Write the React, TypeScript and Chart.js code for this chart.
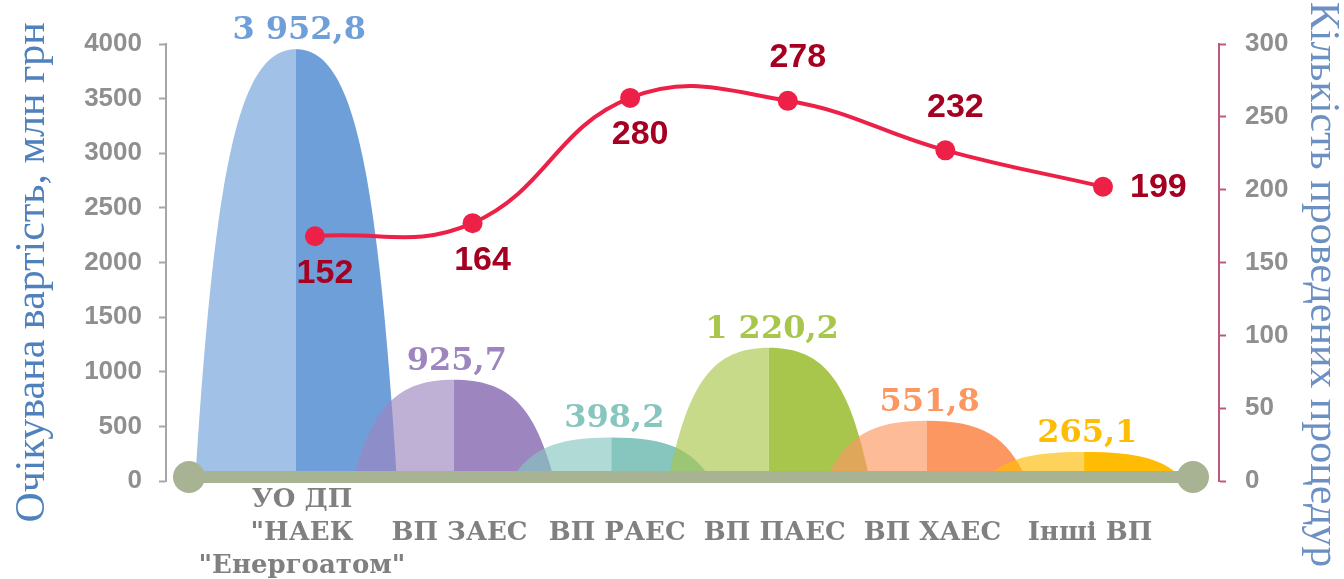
import React, { useEffect, useRef } from "react";
import { Chart, registerables } from "chart.js";

Chart.register(...registerables);

// ---- data ----
const categories: string[][] = [
  ["УО ДП", "\"НАЕК", "\"Енергоатом\""],
  ["ВП ЗАЕС"],
  ["ВП РАЕС"],
  ["ВП ПАЕС"],
  ["ВП ХАЕС"],
  ["Інші ВП"],
];
const expectedCost = [3952.8, 925.7, 398.2, 1220.2, 551.8, 265.1];
// labels shown next to the red markers
const procedureCount = [152, 164, 280, 278, 232, 199];
// height at which each red marker is drawn in the picture (right axis units)
const procedureMarkerLevel = [168, 177, 263, 261, 227, 202];
const costAxisMax = 4000;
const costAxisStep = 500;
const countAxisMax = 300;
const countAxisStep = 50;
const bellColors = ["#6F9FD9", "#9D85C0", "#86C6BE", "#A8C64B", "#FC9761", "#FEBC05"];
const leftTitle = "Очікувана вартість, млн грн";
const rightTitle = "Кількість проведених процедур";

// ---- style ----
const LINE_COLOR = "#ED2048";
const LINE_LABEL_COLOR = "#A50021";
const BAND_COLOR = "#A7B393";
const GREY_TEXT = "#8F8F8F";
const labelPlacement = ["below", "below", "below", "above", "above", "right"];

const fmtCost = (v: number) => {
  const [i, d] = v.toFixed(1).split(".");
  return i.replace(/\B(?=(\d{3})+(?!\d))/g, " ") + "," + d;
};

const decorPlugin = {
  id: "decor",
  beforeDatasetsDraw(chart: any) {
    const { ctx, chartArea } = chart;
    const xs = chart.scales.x;
    const ys = chart.scales.y;
    const base = ys.getPixelForValue(0);
    const hw = xs.getPixelForValue(0.64) - xs.getPixelForValue(0);
    ctx.save();
    expectedCost.forEach((v, i) => {
      const cx = xs.getPixelForValue(i - 0.12);
      const top = ys.getPixelForValue(v);
      const H = base - top;
      ctx.fillStyle = bellColors[i];
      // left (light) half
      ctx.globalAlpha = 0.65;
      ctx.beginPath();
      ctx.moveTo(cx - hw, base);
      ctx.bezierCurveTo(cx - 0.8 * hw, base - 0.75 * H, cx - 0.55 * hw, top, cx, top);
      ctx.lineTo(cx, base);
      ctx.closePath();
      ctx.fill();
      // right (dark) half
      ctx.globalAlpha = 1;
      ctx.beginPath();
      ctx.moveTo(cx, top);
      ctx.bezierCurveTo(cx + 0.55 * hw, top, cx + 0.8 * hw, base - 0.75 * H, cx + hw, base);
      ctx.lineTo(cx, base);
      ctx.closePath();
      ctx.fill();
    });
    // baseline band with round ends
    const y0 = base - 4;
    const xL = chartArea.left + 23;
    const xR = chartArea.right - 26;
    ctx.fillStyle = BAND_COLOR;
    ctx.fillRect(xL, y0 - 6, xR - xL, 12);
    ctx.beginPath();
    ctx.arc(xL, y0, 16, 0, Math.PI * 2);
    ctx.arc(xR, y0, 16, 0, Math.PI * 2);
    ctx.fill();
    ctx.restore();
  },
  afterDatasetsDraw(chart: any) {
    const { ctx, chartArea } = chart;
    const xs = chart.scales.x;
    const ys = chart.scales.y;
    ctx.save();
    // cost labels above bells
    ctx.font = "bold 32px 'DejaVu Serif'";
    ctx.textAlign = "center";
    ctx.textBaseline = "alphabetic";
    expectedCost.forEach((v, i) => {
      const cx = xs.getPixelForValue(i - 0.1);
      const top = ys.getPixelForValue(v);
      ctx.fillStyle = bellColors[i];
      ctx.fillText(fmtCost(v), cx, top - 10);
    });
    // procedure count labels
    const meta = chart.getDatasetMeta(0);
    ctx.font = "bold 34px 'Liberation Sans', Arial, sans-serif";
    ctx.fillStyle = LINE_LABEL_COLOR;
    ctx.textBaseline = "middle";
    meta.data.forEach((pt: any, i: number) => {
      const p = labelPlacement[i];
      let x = pt.x + 10;
      let y = pt.y;
      ctx.textAlign = "center";
      if (p === "below") y += 36;
      else if (p === "above") y -= 44;
      else {
        x = pt.x + 27;
        ctx.textAlign = "left";
      }
      ctx.fillText(String(procedureCount[i]), x, y + 1);
    });
    // category labels
    ctx.font = "bold 26px 'DejaVu Serif'";
    ctx.fillStyle = "#808080";
    ctx.textAlign = "center";
    ctx.textBaseline = "alphabetic";
    categories.forEach((lines, i) => {
      const cx = xs.getPixelForValue(i) - 13;
      const mid = chartArea.bottom + 59;
      lines.forEach((ln, k) => {
        ctx.fillText(ln, cx, mid + (k - (lines.length - 1) / 2) * 33);
      });
    });
    // axis titles
    const cy = (chartArea.top + chartArea.bottom) / 2;
    ctx.font = "42px 'Liberation Serif', serif";
    ctx.fillStyle = "#4F81BD";
    ctx.save();
    ctx.translate(chartArea.left - 122, cy + 10);
    ctx.rotate(-Math.PI / 2);
    ctx.fillText(leftTitle, 0, 0);
    ctx.restore();
    ctx.fillStyle = "#6D90C3";
    ctx.save();
    ctx.translate(chartArea.right + 92, cy + 22);
    ctx.rotate(Math.PI / 2);
    ctx.fillText(rightTitle, 0, 0);
    ctx.restore();
    ctx.restore();
  },
};

export default function App() {
  const ref = useRef<HTMLCanvasElement | null>(null);
  useEffect(() => {
    if (!ref.current) return;
    const tickFont = { family: "'Liberation Sans', Arial, sans-serif", weight: "bold" as const, size: 26 };
    const plain = (v: any) => String(v);
    const chart = new Chart(ref.current, {
      type: "line",
      data: {
        datasets: [
          {
            label: "Кількість проведених процедур",
            data: procedureMarkerLevel.map((v, i) => ({ x: i, y: v })),
            yAxisID: "y1",
            xAxisID: "x",
            borderColor: LINE_COLOR,
            backgroundColor: LINE_COLOR,
            borderWidth: 4,
            tension: 0.42,
            pointRadius: 10,
            pointBackgroundColor: LINE_COLOR,
            pointBorderWidth: 0,
            clip: false as any,
          },
        ],
      },
      options: {
        responsive: false,
        animation: false,
        devicePixelRatio: 1,
        layout: { padding: { top: 44, bottom: 98, left: 0, right: 0 } },
        plugins: { legend: { display: false }, tooltip: { enabled: false }, title: { display: false } },
        scales: {
          x: { type: "linear", display: false, min: -0.945, max: 5.736 },
          y: {
            position: "left",
            min: 0,
            max: costAxisMax,
            ticks: { stepSize: costAxisStep, padding: 17, color: GREY_TEXT, font: tickFont, callback: plain },
            grid: { drawOnChartArea: false, drawTicks: true, tickLength: 7, tickColor: "#A6A6A6", tickWidth: 2 },
            border: { display: true, color: "#A6A6A6", width: 2 },
            afterFit: (s: any) => {
              s.width = 166;
            },
          },
          y1: {
            position: "right",
            min: 0,
            max: countAxisMax,
            ticks: { stepSize: countAxisStep, padding: 19, color: GREY_TEXT, font: tickFont, callback: plain },
            grid: { drawOnChartArea: false, drawTicks: true, tickLength: 7, tickColor: "#C0587E", tickWidth: 2 },
            border: { display: true, color: "#C0587E", width: 2 },
            afterFit: (s: any) => {
              s.width = 125;
            },
          },
        },
      } as any,
      plugins: [decorPlugin],
    });
    return () => chart.destroy();
  }, []);
  return (
    <div style={{ position: "fixed", left: 0, top: 0, width: 1344, height: 579, background: "#fff" }}>
      <canvas ref={ref} width={1344} height={579} style={{ display: "block" }} />
    </div>
  );
}
